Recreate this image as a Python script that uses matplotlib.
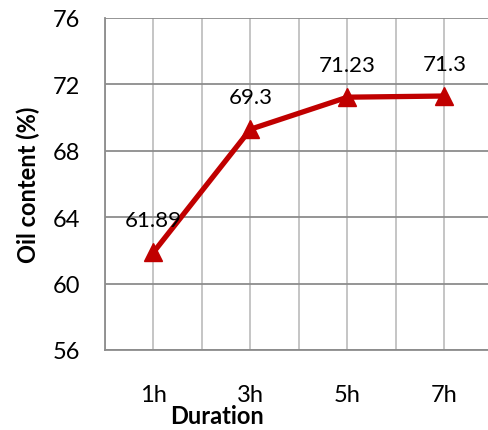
import matplotlib

matplotlib.use("Agg")
import matplotlib.pyplot as plt

durations = ["1h", "3h", "5h", "7h"]
hours = [1, 3, 5, 7]
oil_content = [61.89, 69.3, 71.23, 71.3]
yticks = [56, 60, 64, 68, 72, 76]

RED = "#C00000"
plt.rcParams["font.family"] = ["Lato", "DejaVu Sans"]

fig = plt.figure(figsize=(4.89, 4.31), dpi=100)
ax = fig.add_axes([105 / 489, 1 - 351 / 431, 388 / 489, 332 / 431])

ax.set_xlim(0, 8)
ax.set_ylim(56, 76)
ax.set_xticks(range(0, 9))
ax.set_yticks(yticks)
ax.grid(axis="x", color="#c0c0c0", lw=1.3)
ax.grid(axis="y", color="#8c8c8c", lw=1.3)
ax.set_axisbelow(True)
ax.tick_params(length=0)
ax.set_xticklabels([])
for side in ["top", "right"]:
    ax.spines[side].set_visible(False)
for side in ["left", "bottom"]:
    ax.spines[side].set_color("#8c8c8c")
    ax.spines[side].set_linewidth(1.3)
ax.tick_params(axis="y", labelsize=17, pad=18)

ax.plot(hours, oil_content, color=RED, lw=3.8, marker="^", ms=13,
        markeredgecolor=RED, clip_on=False, zorder=3)

for h, v in zip(hours, oil_content):
    ax.annotate(f"{v:g}", (h, v), xytext=(0, 23), textcoords="offset points",
                ha="center", va="center", fontsize=16)

for h, lab in zip(hours, durations):
    ax.annotate(lab, (h, 56), xytext=(0, -32), textcoords="offset points",
                ha="center", va="center", fontsize=17)

fig.text(217 / 489, 1 - 417 / 431, "Duration", ha="center", va="center",
         fontsize=17, fontweight="bold")
fig.text(28 / 489, 1 - 185 / 431, "Oil content (%)", ha="center", va="center",
         fontsize=17, fontweight="bold", rotation=90)

fig.savefig("out.png", dpi=100)
